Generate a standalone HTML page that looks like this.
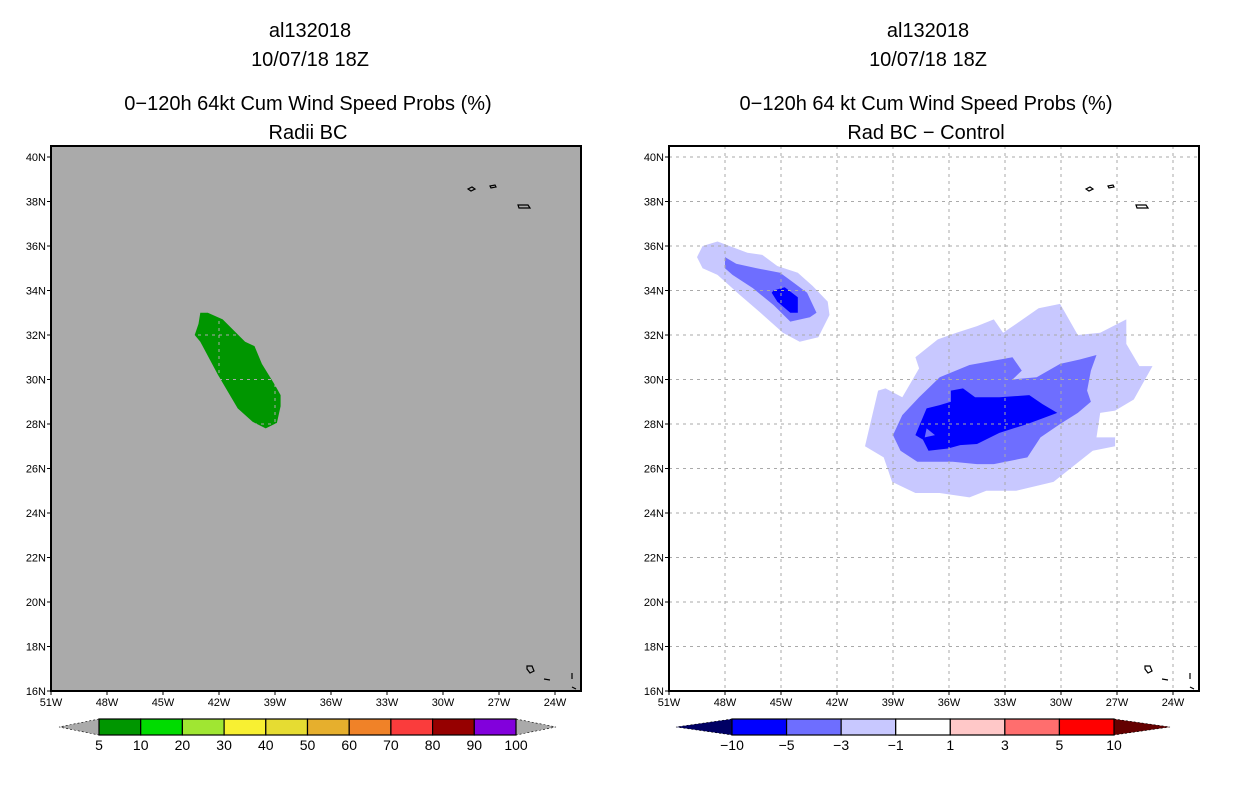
<!DOCTYPE html>
<html><head><meta charset="utf-8">
<style>
body{margin:0;background:#fff;}
svg{display:block;font-family:"Liberation Sans",sans-serif;}
</style></head>
<body>
<svg id="fig" width="1236" height="800" viewBox="0 0 1236 800" xmlns="http://www.w3.org/2000/svg">
  <rect width="1236" height="800" fill="#fff"/>
  <g font-size="20" text-anchor="middle" fill="#000">
    <text x="310" y="37">al132018</text>
    <text x="310" y="66">10/07/18 18Z</text>
    <text x="308" y="110">0−120h 64kt Cum Wind Speed Probs (%)</text>
    <text x="308" y="139">Radii BC</text>
    <text x="928" y="37">al132018</text>
    <text x="928" y="66">10/07/18 18Z</text>
    <text x="926" y="110">0−120h 64 kt Cum Wind Speed Probs (%)</text>
    <text x="926" y="139">Rad BC − Control</text>
  </g>
  <g id="left"></g>
  <g id="right"></g>
</svg>
<script>
// ---- data ----
const lonTicks = [-51,-48,-45,-42,-39,-36,-33,-30,-27,-24];
const latTicks = [16,18,20,22,24,26,28,30,32,34,36,38,40];
const greenLon = [-43.0,-42.6,-41.8,-40.6,-40.1,-39.7,-39.0,-38.7,-38.7,-38.9,-39.5,-40.2,-41.0,-42.05,-43.0,-43.3,-43.1];
const greenLat = [33.0,33.0,32.7,31.7,31.5,30.7,29.75,29.3,28.8,28.05,27.8,28.1,28.7,30.2,31.7,32.0,32.5];
const bigLightLon = [-40.5,-39.8,-39.4,-38.5,-37.6,-37.8,-36.6,-35.6,-34.5,-33.6,-33.1,-32.4,-31.2,-30.05,-29.1,-27.9,-26.5,-26.5,-25.8,-25.1,-26.1,-27.1,-27.9,-28.1,-27.1,-27.1,-28.3,-30.4,-32.4,-34.0,-34.9,-36.5,-37.8,-39.05,-39.5];
const bigLightLat = [27.0,29.5,29.6,29.2,30.5,31.0,31.8,32.1,32.4,32.7,32.1,32.5,33.2,33.4,32.0,32.1,32.7,31.6,30.6,30.6,29.1,28.6,28.5,27.4,27.4,27.0,26.8,25.4,25.0,25.0,24.7,24.9,24.9,25.4,26.5];
const bigMedLon = [-39.0,-38.5,-37.6,-36.5,-34.9,-32.6,-32.1,-32.6,-31.3,-30.05,-29.0,-28.1,-28.4,-28.6,-28.4,-29.1,-30.05,-31.1,-31.8,-33.6,-34.5,-35.8,-37.7,-38.6];
const bigMedLat = [27.5,28.4,29.2,30.1,30.65,31.0,30.4,30.0,30.1,30.7,30.9,31.1,30.4,29.5,29.0,28.5,28.0,27.4,26.5,26.2,26.2,26.3,26.3,26.8];
const bigDarkLon = [-37.8,-37.2,-36.5,-35.9,-35.9,-35.25,-34.6,-33.3,-31.7,-31.0,-30.2,-31.8,-33.3,-34.5,-35.4,-36.05,-37.1,-37.4];
const bigDarkLat = [27.5,28.7,28.85,29.0,29.5,29.6,29.2,29.2,29.3,28.9,28.5,28.0,27.6,27.1,27.05,26.9,26.8,27.3];
const holeLon = [-37.2,-36.75,-37.3];
const holeLat = [27.8,27.5,27.4];
const nwLightLon = [-49.5,-49.2,-48.4,-46.8,-46.0,-45.2,-44.1,-43.3,-42.5,-42.4,-43.0,-44.0,-44.9,-46.1,-47.2,-48.4,-49.2];
const nwLightLat = [35.5,36.0,36.2,35.7,35.6,35.1,34.8,34.2,33.5,32.9,31.9,31.7,32.1,33.0,33.8,34.7,35.0];
const nwMedLon = [-48.0,-47.4,-46.3,-45.05,-44.4,-43.6,-43.1,-43.45,-44.5,-45.4,-46.5,-47.6,-48.0];
const nwMedLat = [35.5,35.2,35.0,34.8,34.4,33.9,33.0,32.8,32.6,33.35,34.1,34.7,35.0];
const nwDarkLon = [-45.4,-44.8,-44.1,-44.1,-44.1,-44.5,-45.2,-45.5];
const nwDarkLat = [34.0,34.15,33.7,33.4,33.0,33.0,33.5,33.9];
const probLevels = ["5","10","20","30","40","50","60","70","80","90","100"];
const probColors = ["#009600","#00dc00","#a0e632","#f8f032","#e6dc32","#e6af2d","#f08228","#fa3c3c","#960000","#8200dc"];
const diffLevels = ["−10","−5","−3","−1","1","3","5","10"];
const diffColors = ["#0000ff","#6e6eff","#c8c8ff","#ffffff","#ffc8c8","#ff6e6e","#ff0000"];

// ---- axes ----
const NS="http://www.w3.org/2000/svg";
function mk(tag, attrs, parent){const e=document.createElementNS(NS,tag);for(const k in attrs)e.setAttribute(k,attrs[k]);parent.appendChild(e);return e;}
const PW=530, PH=545, TOP=146;
const LON0=-51, LAT0=16, DEGX=56/3, DEGY=22.25;
function makeAxes(x0){return {x:lon=>x0+(lon-LON0)*DEGX, y:lat=>TOP+PH-(lat-LAT0)*DEGY};}

function drawPanel(g, x0, bg, gridColor){
  const ax=makeAxes(x0);
  const r=mk('rect',{x:x0,y:TOP,width:PW,height:PH,fill:bg},g);
  
  
  return ax;
}
function poly(g, ax, lons, lats, fill, name){
  const pts=lons.map((l,i)=>ax.x(l).toFixed(1)+','+ax.y(lats[i]).toFixed(1)).join(' ');
  const p=mk('polygon',{points:pts,fill:fill},g);
  
  
}
function gridAndFrame(g, ax, x0, gridColor){
  const gg=mk('g',{stroke:gridColor,'stroke-width':1,'stroke-dasharray':'3,4'},g);
  lonTicks.forEach(l=>{if(l>LON0){const x=ax.x(l);mk('line',{x1:x,y1:TOP,x2:x,y2:TOP+PH},gg);}});
  latTicks.forEach(l=>{if(l>LAT0){const y=ax.y(l);mk('line',{x1:x0,y1:y,x2:x0+PW,y2:y},gg);}});
  // islands
  const isl=mk('g',{fill:'none',stroke:'#000','stroke-width':1.2},g);
  
  
  const o=x0-51;
  mk('path',{d:`M${o+468},189 l4,-2 l3,2 l-4,2z M${o+490},186 l5,-1 l1,2 l-5,1z M${o+518},205 l10,0 l2,3 l-11,0z M${o+527},666 l5,0 l2,5 l-4,2 l-3,-4z M${o+544},679 l6,1 M${o+572},673 l0,6 M${o+572},687 l4,2`},isl);
  const f=mk('rect',{x:x0,y:TOP,width:PW,height:PH,fill:'none',stroke:'#000','stroke-width':2},g);
  
  
  const t=mk('g',{'font-size':11,fill:'#000'},g);
  lonTicks.forEach(l=>{
    const x=ax.x(l);
    mk('line',{x1:x,y1:TOP+PH,x2:x,y2:TOP+PH+4,stroke:'#000'},g);
    const tx=mk('text',{x:x,y:TOP+PH+15,'text-anchor':'middle'},t);
    tx.textContent=Math.abs(l)+'W';
    
    
  });
  latTicks.forEach(l=>{
    const y=ax.y(l);
    mk('line',{x1:x0-4,y1:y,x2:x0,y2:y,stroke:'#000'},g);
    const tx=mk('text',{x:x0-5,y:y+4,'text-anchor':'end'},t);
    tx.textContent=l+'N';
    
    
  });
}
function colorbar(g, x1, x2, colors, labels, leftTri, rightTri, triW){
  const y=719,h=16,w=(x2-x1)/colors.length;
  const lt=mk('polygon',{points:`${x1},${y} ${x1-triW},${y+h/2} ${x1},${y+h}`,fill:leftTri,stroke:'#000','stroke-width':0.6,'stroke-dasharray':'2,2'},g);
  
  
  const rt=mk('polygon',{points:`${x2},${y} ${x2+triW},${y+h/2} ${x2},${y+h}`,fill:rightTri,stroke:'#000','stroke-width':0.6,'stroke-dasharray':'2,2'},g);
  
  
  colors.forEach((c,i)=>{
    const r=mk('rect',{x:x1+i*w,y:y,width:w,height:h,fill:c,stroke:'#000','stroke-width':1.2},g);
    
    
  });
  labels.forEach((s,i)=>{
    const t=mk('text',{x:x1+i*w,y:y+h+15,'text-anchor':'middle','font-size':14},g);
    t.textContent=s;
    
    
  });
}

// left panel
const gl=document.getElementById('left');


const axL=drawPanel(gl,51,'#aaaaaa');
poly(gl,axL,greenLon,greenLat,'#009600','prob-contour-5-10');
gridAndFrame(gl,axL,51,'#aaaaaa');
colorbar(gl,99,516,probColors,probLevels,'#aaaaaa','#aaaaaa',40);

// right panel
const gr=document.getElementById('right');


const axR=drawPanel(gr,669,'#ffffff');
poly(gr,axR,bigLightLon,bigLightLat,'#c8c8ff','diff-contour-light-main');
poly(gr,axR,bigMedLon,bigMedLat,'#6e6eff','diff-contour-medium-main');
poly(gr,axR,bigDarkLon,bigDarkLat,'#0000ff','diff-contour-dark-main');
poly(gr,axR,holeLon,holeLat,'#6e6eff','diff-contour-hole');
poly(gr,axR,nwLightLon,nwLightLat,'#c8c8ff','diff-contour-light-nw');
poly(gr,axR,nwMedLon,nwMedLat,'#6e6eff','diff-contour-medium-nw');
poly(gr,axR,nwDarkLon,nwDarkLat,'#0000ff','diff-contour-dark-nw');
gridAndFrame(gr,axR,669,'#aaaaaa');
colorbar(gr,732,1114,diffColors,diffLevels,'#000064','#640000',56);
</script>
</body></html>
